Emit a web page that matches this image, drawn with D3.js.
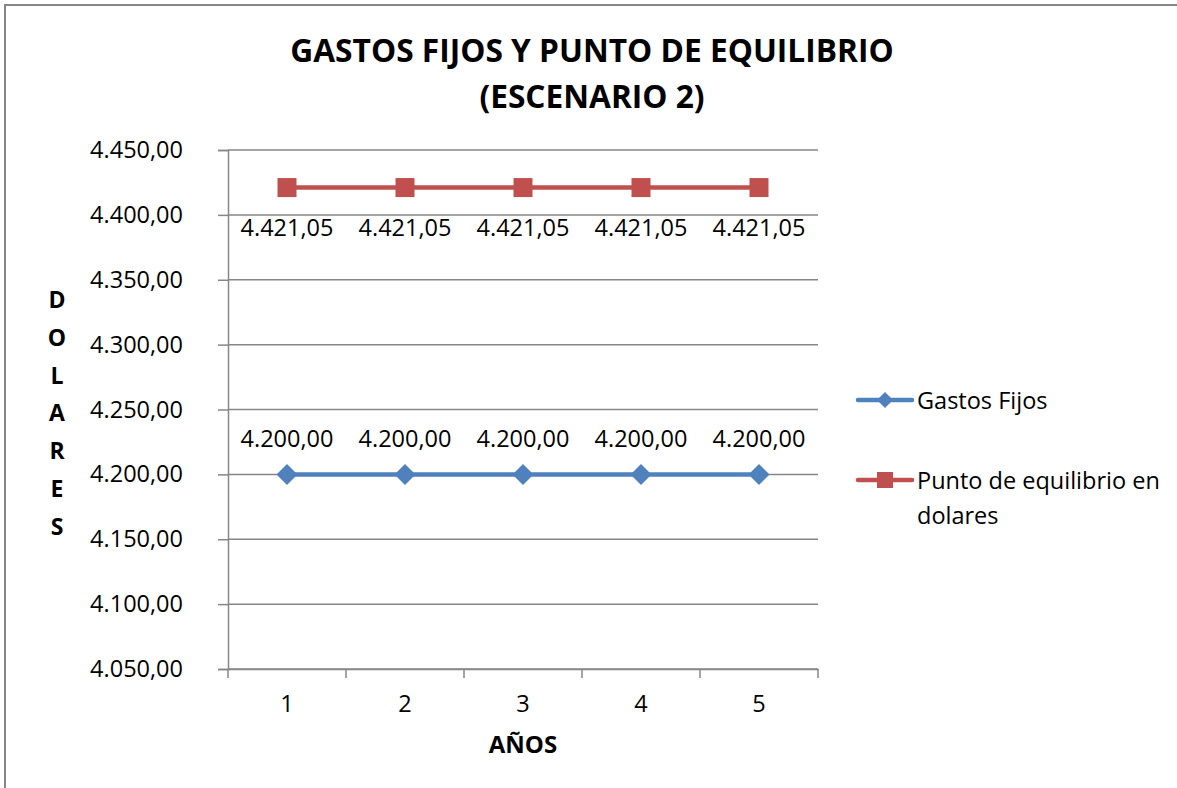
<!DOCTYPE html>
<html><head><meta charset="utf-8">
<script src="https://cdn.jsdelivr.net/npm/d3@7"></script>
<style>body{margin:0;background:#fff}svg{display:block}text{font-family:"Open Sans",sans-serif;fill:#000}</style>
</head><body><svg id="c" width="1177" height="788"></svg>
<script>
const categories = ["1","2","3","4","5"];
const gastosFijos = [4200, 4200, 4200, 4200, 4200];
const puntoEquilibrio = [4421.05, 4421.05, 4421.05, 4421.05, 4421.05];
const yTicks = [4050, 4100, 4150, 4200, 4250, 4300, 4350, 4400, 4450];
const seriesNames = ["Gastos Fijos", "Punto de equilibrio en dolares"];
const colors = ["#4F81BD", "#C0504D"];

const svg = d3.select("#c");
const fmt = v => { const s = v.toFixed(2).split("."); return s[0].replace(/\B(?=(\d{3})+(?!\d))/g, ".") + "," + s[1]; };
const FS = "23.5px";

svg.append("rect").attr("x",5).attr("y",5).attr("width",1180).attr("height",800)
  .attr("fill","none").attr("stroke","#868686").attr("stroke-width",2);

const x = d3.scaleBand().domain(categories).range([228, 818]);
const y = d3.scaleLinear().domain([4050, 4450]).range([669, 150]);

// gridlines
svg.append("g").selectAll("line").data(yTicks).join("line")
  .attr("x1",228).attr("x2",818).attr("y1",d=>y(d)).attr("y2",d=>y(d))
  .attr("stroke","#868686").attr("stroke-width",1.5);

// y axis
const ya = svg.append("g").attr("transform","translate(228,0)")
  .call(d3.axisLeft(y).tickValues(yTicks).tickSize(10).tickPadding(35).tickFormat(fmt));
ya.select(".domain").attr("stroke","#868686").attr("stroke-width",1.5);
ya.selectAll(".tick line").attr("stroke","#868686").attr("stroke-width",1.5);
ya.selectAll("text").style("font-size",FS).style("font-family","'Open Sans',sans-serif").attr("fill","#000");

// x axis
const xa = svg.append("g").attr("transform","translate(0,669)")
  .call(d3.axisBottom(x).tickSize(0).tickPadding(26));
xa.select(".domain").attr("stroke","#868686").attr("stroke-width",1.5);
xa.selectAll("text").style("font-size",FS).style("font-family","'Open Sans',sans-serif").attr("fill","#000");
const bounds = [228].concat(categories.map(c => x(c) + x.bandwidth()));
svg.append("g").selectAll("line").data(bounds).join("line")
  .attr("x1",d=>d).attr("x2",d=>d).attr("y1",669).attr("y2",678)
  .attr("stroke","#868686").attr("stroke-width",1.5);

const cx = c => x(c) + x.bandwidth()/2;
const line = d3.line().x((d,i)=>cx(categories[i])).y(d=>y(d));

// series
const s1 = svg.append("g");
s1.append("path").datum(gastosFijos).attr("d",line).attr("fill","none").attr("stroke",colors[0]).attr("stroke-width",4.5);
s1.selectAll("path.m").data(gastosFijos).join("path").attr("class","m")
  .attr("transform",(d,i)=>`translate(${cx(categories[i])},${y(d)})`)
  .attr("d","M0,-10.5L10.5,0L0,10.5L-10.5,0Z").attr("fill",colors[0]);
s1.selectAll("text").data(gastosFijos).join("text")
  .attr("x",(d,i)=>cx(categories[i])).attr("y",d=>y(d)-27.5).attr("text-anchor","middle")
  .style("font-size",FS).text(fmt);

const s2 = svg.append("g");
s2.append("path").datum(puntoEquilibrio).attr("d",line).attr("fill","none").attr("stroke",colors[1]).attr("stroke-width",4.5);
s2.selectAll("rect").data(puntoEquilibrio).join("rect")
  .attr("x",(d,i)=>cx(categories[i])-9.5).attr("y",d=>y(d)-9.5).attr("width",19).attr("height",19).attr("fill",colors[1]);
s2.selectAll("text").data(puntoEquilibrio).join("text")
  .attr("x",(d,i)=>cx(categories[i])).attr("y",d=>y(d)+48).attr("text-anchor","middle")
  .style("font-size",FS).text(fmt);

// title
svg.append("text").attr("x",592).attr("y",62).attr("text-anchor","middle")
  .style("font-size","31.7px").style("font-weight","bold").text("GASTOS FIJOS Y PUNTO DE EQUILIBRIO");
svg.append("text").attr("x",592).attr("y",108).attr("text-anchor","middle")
  .style("font-size","31.7px").style("font-weight","bold").text("(ESCENARIO 2)");

// axis titles
svg.append("text").attr("x",523).attr("y",753).attr("text-anchor","middle")
  .style("font-size","24px").style("font-weight","bold").text("AÑOS");
const yt = "DOLARES".split("");
svg.append("g").selectAll("text").data(yt).join("text")
  .attr("x",57).attr("y",(d,i)=>308 + i*37.8).attr("text-anchor","middle")
  .style("font-size","23px").style("font-weight","bold").text(d=>d);

// legend
const lg = svg.append("g");
const ly = [400, 480];
lg.selectAll("line").data(colors).join("line")
  .attr("x1",858).attr("x2",912).attr("y1",(d,i)=>ly[i]).attr("y2",(d,i)=>ly[i])
  .attr("stroke",d=>d).attr("stroke-width",4.5).attr("stroke-linecap","round");
lg.append("path").attr("transform",`translate(885,${ly[0]})`).attr("d","M0,-8L8,0L0,8L-8,0Z").attr("fill",colors[0]);
lg.append("rect").attr("x",877).attr("y",ly[1]-8).attr("width",16).attr("height",16).attr("fill",colors[1]);
lg.append("text").attr("x",917).attr("y",ly[0]+8.5).style("font-size",FS).text(seriesNames[0]);
const t2 = lg.append("text").attr("x",917).attr("y",ly[1]+8.5).style("font-size",FS);
t2.append("tspan").attr("x",917).text("Punto de equilibrio en");
t2.append("tspan").attr("x",917).attr("dy",35).text("dolares");
</script></body></html>
